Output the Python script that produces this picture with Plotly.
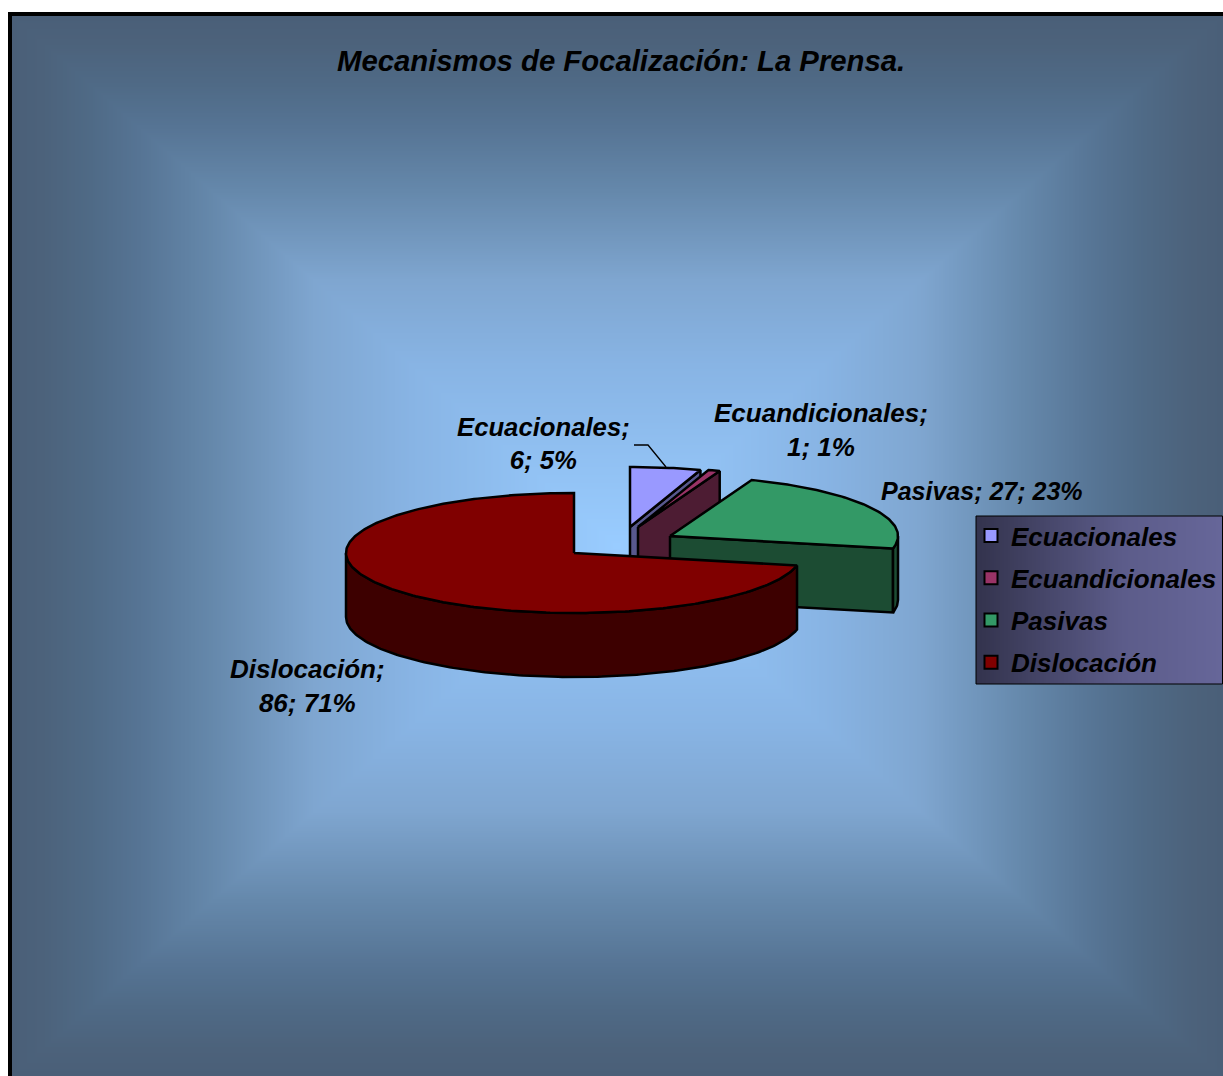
import numpy as np
import plotly.graph_objects as go

W, H = 1223, 1076
title = "Mecanismos de Focalización: La Prensa."
categories = ["Ecuacionales", "Ecuandicionales", "Pasivas", "Dislocación"]
values = [6, 1, 27, 86]
percent_labels = ["5%", "1%", "23%", "71%"]
top_colors = ["#9999FF", "#993366", "#339966", "#800000"]
side_colors = ["#58588E", "#4D1C33", "#1C4C33", "#3D0000"]
# apex of every exploded slice on the page
apex_x = [630, 638, 670, 574]
apex_y = [527, 527, 536, 553]
RX, RY, DEPTH = 228, 60, 64
label_x = [543, 821, 981.5, 307.5]
label_y = [443.5, 430, 491, 686]
label_size = [25.7, 26, 25, 26]
label_text = ["Ecuacionales;<br>6; 5%", "Ecuandicionales;<br>1; 1%", "Pasivas; 27; 23%", "Dislocación;<br>86; 71%"]

FONT = "Liberation Sans"
fig = go.Figure()


def rim(cx, cy, a):
    a = np.radians(a)
    return cx + RX * np.sin(a), cy - RY * np.cos(a)


def poly(xs, ys, color):
    fig.add_trace(go.Scatter(x=list(xs), y=list(ys), mode="lines", fill="toself", fillcolor=color,
                             line=dict(color="black", width=2.5), hoverinfo="skip", showlegend=False))


# background: rectangular-path gradient
px = np.arange(12, W + 2, 2.0)
py = np.arange(16, H + 2, 2.0)
cx0, cy0 = (12 + W) / 2, (16 + H) / 2
t = np.maximum(np.abs(px - cx0)[None, :] / (cx0 - 12), np.abs(py - cy0)[:, None] / (cy0 - 16))
fig.add_trace(go.Heatmap(x=px, y=py, z=t, zmin=0, zmax=1, showscale=False, hoverinfo="skip",
                         colorscale=[[0, "#99CCFF"], [0.34, "#88B4E4"], [0.5, "#7FA6D0"], [0.67, "#6588AB"],
                                     [0.79, "#567494"], [0.87, "#4F6A86"], [0.95, "#4C627B"], [1, "#4A5F78"]]))

# legend panel: horizontal gradient (cell edges on both axes)
lx = np.arange(976, W + 1, 2.0)
fig.add_trace(go.Heatmap(x=lx, y=[516, 684], z=[lx[:-1].tolist()], showscale=False, hoverinfo="skip",
                         colorscale=[[0, "#33334D"], [0.6, "#5C5C8A"], [1, "#666699"]]))

# slices, back to front
cum = np.cumsum([0] + values)
total = cum[-1]
start = cum[:-1] / total * 360
end = cum[1:] / total * 360
for i in range(len(values)):
    ax, ay, a0, a1 = apex_x[i], apex_y[i], start[i], end[i]
    # cut face on the clockwise end of the slice
    if a1 < 360:
        rx_, ry_ = rim(ax, ay, a1)
        if i < 3:
            poly([ax, rx_, rx_, ax, ax], [ay, ry_, ry_ + DEPTH, ay + DEPTH, ay], side_colors[i])
    # outer wall, the part that faces the viewer
    w0, w1 = max(a0, 90), min(a1, 270)
    if w1 > w0:
        th = np.arange(w0, w1 + 0.5, 1.0)
        xs, ys = rim(ax, ay, th)
        poly(np.r_[xs, xs[::-1], xs[0]], np.r_[ys, ys[::-1] + DEPTH, ys[0]], side_colors[i])
    # top face
    th = np.linspace(a0, a1, max(int(a1 - a0), 2) + 1)
    xs, ys = rim(ax, ay, th)
    poly(np.r_[ax, xs, ax], np.r_[ay, ys, ay], top_colors[i])

# legend entries
for c, col in zip(categories, top_colors):
    fig.add_trace(go.Scatter(x=[None], y=[None], mode="markers", name=c, legendgroup=c,
                             marker=dict(symbol="square", size=13, color=col, line=dict(color="black", width=2))))

for x, y, s, sz in zip(label_x, label_y, label_text, label_size):
    fig.add_annotation(x=x, y=y, xref="x", yref="y", text=s, showarrow=False, align="center",
                       font=dict(family=FONT, size=sz, color="black", style="italic", weight="bold"))
fig.add_annotation(x=621, y=60, xref="x", yref="y", text=title, showarrow=False,
                   font=dict(family=FONT, size=29.3, color="black", style="italic", weight="bold"))

fig.update_layout(
    width=W, height=H, margin=dict(l=0, r=0, t=0, b=0, autoexpand=False), paper_bgcolor="white", plot_bgcolor="white",
    xaxis=dict(range=[0, W], visible=False, fixedrange=True),
    yaxis=dict(range=[H, 0], visible=False, fixedrange=True),
    legend=dict(x=971 / W, y=1 - 512 / H, xanchor="left", yanchor="top", bgcolor="rgba(0,0,0,0)",
                tracegroupgap=5.5, itemwidth=30,
                font=dict(family=FONT, size=26, color="black", style="italic", weight="bold")),
    shapes=[
        dict(type="rect", x0=10, y0=14, x1=W + 20, y1=H + 20, line=dict(color="black", width=4), layer="above"),
        dict(type="rect", x0=976, y0=516, x1=W - 0.5, y1=684, line=dict(color="black", width=1), layer="above"),
        dict(type="path", path="M634,445 L648,445 L666,467", line=dict(color="black", width=1.3), layer="above"),
    ],
)
fig.write_html("out.html", config={"displayModeBar": False},
               post_script="document.body.style.margin='0';")
